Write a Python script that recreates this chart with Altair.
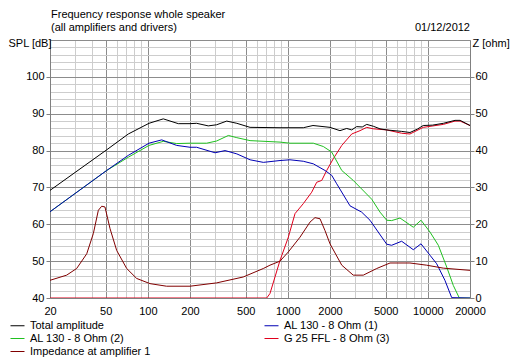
import altair as alt
import pandas as pd

# ---------------- data ----------------
series_names = ["Total amplitude", "AL 130 - 8 Ohm (1)", "AL 130 - 8 Ohm (2)",
                "G 25 FFL - 8 Ohm (3)", "Impedance at amplifier 1"]
series_colors = ["#000000", "#0000b4", "#20c020", "#e0001c", "#800000"]

total_hz = [20, 50.8, 72.5, 101.9, 128.9, 165, 200, 223, 270, 310, 366, 432, 537, 879, 1289,
            1512, 2000, 2356, 2632, 2858, 3100, 3400, 3660, 4074, 4550, 5080, 6500, 7450, 8400,
            9270, 10800, 12900, 15630, 17000, 20000]
total_db = [69.2, 80.2, 84.5, 87.4, 88.6, 87.3, 87.3, 87.4, 86.7, 87.0, 88.0, 87.4, 86.3, 86.2, 86.2,
            86.8, 86.3, 85.4, 86.0, 85.6, 86.5, 86.4, 87.1, 86.6, 85.9, 85.6, 85.2, 84.9, 85.8,
            86.8, 86.9, 87.4, 88.2, 88.2, 86.8]

al1_hz = [20, 50.8, 72.5, 101.9, 125.6, 160.7, 200, 223, 302, 356, 432, 537, 668, 879, 1036, 1289,
          1520, 1842, 2056, 2232, 2632, 2780, 3366, 3860, 5080, 5512, 6500, 7872, 8934, 10358,
          11560, 13240, 14800, 20000]
al1_db = [63.4, 74.6, 78.7, 82.0, 82.9, 81.4, 80.9, 80.9, 79.4, 80.0, 79.1, 77.5, 76.8, 77.3, 77.5, 77.1,
          76.4, 74.6, 73.3, 71.0, 66.5, 65.0, 63.3, 61.1, 54.6, 54.3, 55.4, 53.1, 54.7, 51.6,
          49.3, 44.8, 40.1, 40.0]

al2_hz = [20, 50.8, 72.5, 101.9, 128.9, 160.7, 200, 263, 310, 376, 432, 537, 879, 1036, 1520, 1792,
          2056, 2427, 2932, 3972, 4552, 5080, 5512, 6325, 7872, 8934, 10358, 11880, 13640, 15200,
          16780, 20000]
al2_db = [63.4, 74.6, 78.2, 81.4, 82.5, 81.9, 82.0, 82.0, 82.6, 84.1, 83.5, 82.7, 82.3, 82.0, 82.0, 81.1,
          79.6, 74.6, 71.9, 66.8, 63.3, 61.1, 61.0, 61.7, 59.2, 61.1, 57.9, 54.3, 48.4, 43.4,
          40.0, 40.0]

g25_hz = [20, 706, 745, 879, 1008, 1125, 1289, 1480, 1607, 1746, 1894, 2112, 2427, 2858, 3276, 3660,
          4074, 5080, 6500, 7450, 9270, 12900, 15630, 17000, 20000]
g25_db = [40.0, 40.0, 41.2, 50.2, 56.5, 62.9, 65.6, 68.7, 71.4, 71.9, 74.6, 77.8, 81.4, 84.5, 85.4, 86.3,
          85.9, 85.6, 84.7, 84.5, 86.3, 87.1, 88.0, 88.0, 86.8]

imp_hz = [20, 26.3, 31.0, 36.6, 40.8, 44.3, 46.8, 49.4, 53.7, 59.9, 70.6, 83.2, 103.6, 136, 200, 310,
          480, 668, 745, 879, 1008, 1221, 1440, 1562, 1697, 1842, 2000, 2427, 2932, 3458, 4312,
          5366, 7450, 9810, 12900, 20000]
imp_ohm = [4.8, 6.2, 8.0, 12.0, 17.5, 23.8, 24.9, 24.7, 18.8, 12.9, 8.0, 5.3, 3.9, 3.2, 3.2, 4.1,
           5.7, 8.0, 8.9, 10.0, 12.5, 16.5, 20.6, 21.8, 21.5, 18.3, 14.7, 8.9, 6.2, 6.2, 8.0,
           9.5, 9.5, 8.9, 8.1, 7.5]

x_grid = [20, 30, 40, 50, 60, 70, 80, 90, 100, 200, 300, 400, 500, 600, 700, 800, 900,
          1000, 2000, 3000, 4000, 5000, 6000, 7000, 8000, 9000, 10000, 20000]
x_labels = [20, 50, 100, 200, 500, 1000, 2000, 5000, 10000, 20000]
spl_grid = list(range(40, 112, 2))
z_ticks = [0, 10, 20, 30, 40, 50, 60]

title_text = "Frequency response whole speaker"
subtitle_text = "(all amplifiers and drivers)"
date_text = "01/12/2012"

# ---------------- build tables ----------------
def frame(name, hz, vals):
    return pd.DataFrame({"series": name, "freq": hz, "val": vals})

spl_df = pd.concat([frame(series_names[0], total_hz, total_db),
                    frame(series_names[1], al1_hz, al1_db),
                    frame(series_names[2], al2_hz, al2_db),
                    frame(series_names[3], g25_hz, g25_db)], ignore_index=True)
imp_df = frame(series_names[4], imp_hz, imp_ohm)

FONT = "Liberation Sans"
lab_list = "[" + ",".join(str(v) for v in x_labels) + "]"

color = alt.Color("series:N",
                  scale=alt.Scale(domain=series_names, range=series_colors),
                  legend=alt.Legend(title=None, orient="none", legendX=-40, legendY=278,
                                    direction="horizontal", columns=2,
                                    symbolType="stroke", symbolSize=196,
                                    symbolStrokeWidth=1, labelFont=FONT, labelFontSize=11,
                                    labelColor="#000000", labelOffset=5, rowPadding=0,
                                    columnPadding=111, padding=0, labelLimit=300))

x_enc = alt.X("freq:Q",
              scale=alt.Scale(type="log", domain=[20, 20000], nice=False),
              axis=alt.Axis(title=None, values=x_grid, ticks=False, labelPadding=7, grid=True,
                            labelExpr=f"indexof({lab_list}, datum.value) >= 0 ? format(datum.value, 'd') : ''",
                            labelOverlap=False, labelFlush=False, labelBound=False,
                            gridColor={"condition": {"test": f"indexof({lab_list}, datum.value) >= 0",
                                                     "value": "#8c8c8c"}, "value": "#cdcdcd"},
                            domainColor="#808080"))

y_spl = alt.Y("val:Q", scale=alt.Scale(domain=[40, 110], nice=False, zero=False),
              axis=alt.Axis(orient="left", title="SPL [dB]", titleAngle=0, titleAlign="left",
                            titleBaseline="middle", titleX=-42, titleY=3, titleFont=FONT,
                            titleFontSize=11, titleFontWeight="normal", titleColor="#000000",
                            values=spl_grid, tickSize=4, labelPadding=2, grid=True,
                            labelExpr="datum.value % 10 == 0 && datum.value <= 100 ? datum.label : ''",
                            labelOverlap=False, labelFlush=False,
                            tickColor={"condition": {"test": "datum.value % 10 == 0 && datum.value <= 100",
                                                     "value": "#808080"}, "value": "transparent"},
                            gridColor={"condition": {"test": "datum.value % 10 == 0",
                                                     "value": "#8c8c8c"}, "value": "#cdcdcd"},
                            domainColor="#808080"))

def spl_layer(name):
    return alt.Chart(spl_df).transform_filter(alt.datum.series == name).mark_line(
        strokeWidth=1, clip=True).encode(x=x_enc, y=y_spl, color=color)

def text_layer(txt, x, y, align):
    return alt.Chart(pd.DataFrame({"t": [txt]})).mark_text(
        align=align, baseline="middle", font=FONT, fontSize=11, color="#000000").encode(
        text="t:N", x=alt.value(x), y=alt.value(y))

spl = alt.layer(spl_layer(series_names[3]), spl_layer(series_names[2]),
                spl_layer(series_names[1]), spl_layer(series_names[0]),
                text_layer(title_text, 1, -25, "left"),
                text_layer(subtitle_text, 1, -12, "left"),
                text_layer(date_text, 420, -12, "right"))

imp = alt.Chart(imp_df).mark_line(strokeWidth=1, clip=True).encode(
    x=x_enc,
    y=alt.Y("val:Q", scale=alt.Scale(domain=[0, 70], nice=False, zero=False),
            axis=alt.Axis(orient="right", title="Z [ohm]", titleAngle=0, titleAlign="left",
                          titleBaseline="middle", titleX=2, titleY=3, titleFont=FONT,
                          titleFontSize=11, titleFontWeight="normal", titleColor="#000000",
                          values=z_ticks, tickSize=4, labelPadding=1, grid=False,
                          tickColor="#808080", domainColor="#808080", labelFlush=False)),
    color=color)

chart = alt.layer(spl, imp).resolve_scale(y="independent").properties(
    width=420, height=258,
    autosize=alt.AutoSizeParams(type="none"),
    padding={"left": 42, "top": 32, "right": 41, "bottom": 60},
    background="#ffffff",
).configure_view(stroke=None).configure_axis(
    labelFont=FONT, labelFontSize=11, labelColor="#000000", gridWidth=1, domainWidth=1
)

chart.save("out.html", embed_options={"renderer": "svg", "actions": False})
